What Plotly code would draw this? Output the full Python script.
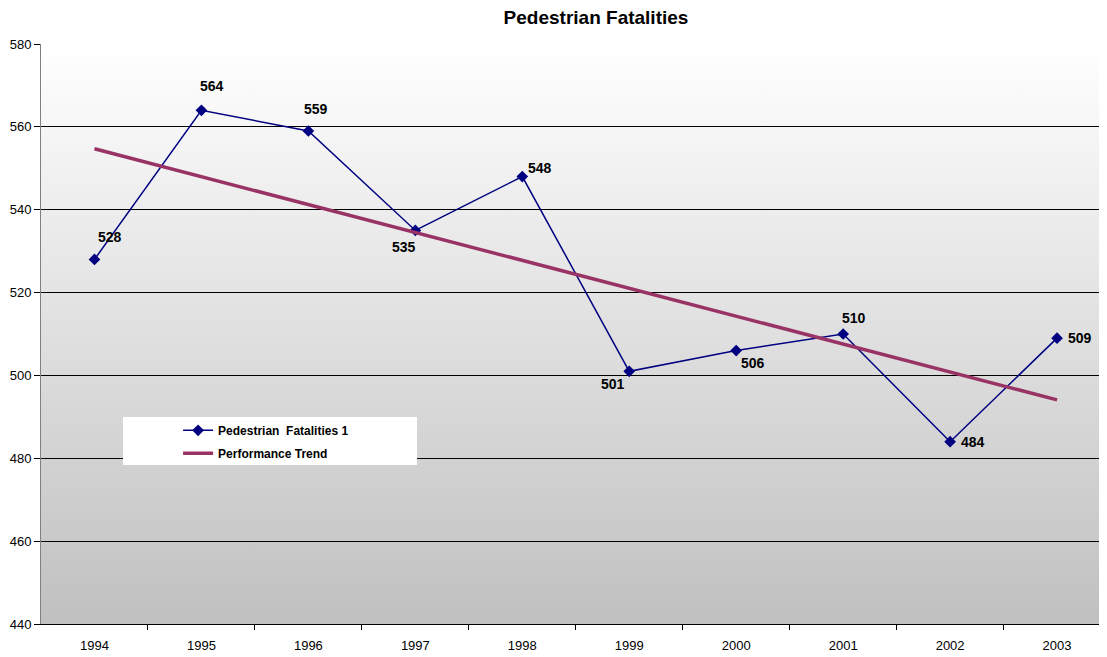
import base64
import plotly.graph_objects as go

years = ["1994", "1995", "1996", "1997", "1998", "1999", "2000", "2001", "2002", "2003"]
fatalities = [528, 564, 559, 535, 548, 501, 506, 510, 484, 509]
trend_years_idx = [0, 9]
trend_values = [554.7, 494.1]

# label offsets (px) for data labels
label_dx = [16, 11, 8, -11, 18, -16, 17, 11, 23, 23]
label_dy = [22, 24, 22, -17, 9, -13, -12, 16, 0, 0]

xi = list(range(len(years)))
FONT = "Arial, Liberation Sans, sans-serif"

svg = ('<svg xmlns="http://www.w3.org/2000/svg" width="100" height="100" preserveAspectRatio="none">'
       '<defs><linearGradient id="g" x1="0" y1="0" x2="0" y2="1">'
       '<stop offset="0" stop-color="#ffffff"/><stop offset="1" stop-color="#c0c0c0"/>'
       '</linearGradient></defs><rect width="100" height="100" fill="url(#g)"/></svg>')
src = "data:image/svg+xml;base64," + base64.b64encode(svg.encode()).decode()

fig = go.Figure()
fig.add_trace(go.Scatter(
    x=xi, y=fatalities, mode="lines+markers", name="Pedestrian&nbsp;&nbsp;Fatalities 1",
    legendgroup="a",
    line=dict(color="#000080", width=1.5),
    marker=dict(symbol="diamond", size=9, color="#000080"),
))
fig.add_trace(go.Scatter(
    x=trend_years_idx, y=trend_values, mode="lines", name="Performance Trend",
    legendgroup="b",
    line=dict(color="#993366", width=3.5),
))

for i, v in enumerate(fatalities):
    fig.add_annotation(x=xi[i], y=v, text=str(v), showarrow=False,
                       xshift=label_dx[i], yshift=label_dy[i],
                       font=dict(family=FONT, size=14, color="black", weight="bold"))

fig.add_layout_image(source=src, xref="paper", yref="paper", x=0, y=1,
                     sizex=1, sizey=1, sizing="stretch", xanchor="left", yanchor="top",
                     layer="below")

# legend box
fig.add_shape(type="rect", xref="paper", yref="paper", x0=0.0769, x1=0.3527,
              y0=0.2741, y1=0.3569, fillcolor="white", line=dict(width=0), layer="above")

W, H = 1099, 649  # page body has an 8px margin
fig.update_layout(
    width=W, height=H,
    margin=dict(l=33, r=0, t=36, b=33, autoexpand=False),
    paper_bgcolor="white", plot_bgcolor="rgba(0,0,0,0)",
    title=dict(text="<b>Pedestrian Fatalities</b>", x=588 / W, xref="container", xanchor="center",
               y=1 - 9 / H, yanchor="middle",
               font=dict(family=FONT, size=19, color="black")),
    font=dict(family=FONT, size=13, color="black"),
    showlegend=True,
    legend=dict(x=0.077, y=0.359, xanchor="left", yanchor="top", traceorder="grouped",
                tracegroupgap=4,
                bgcolor="rgba(0,0,0,0)", borderwidth=0, indentation=55,
                font=dict(family=FONT, size=12, color="black", weight="bold")),
    xaxis=dict(range=[-0.5, 9.467], tickvals=xi, ticktext=years, ticks="", showgrid=False,
               automargin=False, ticklabelstandoff=9,
               showline=True, linecolor="black", linewidth=1, zeroline=False,
               tickfont=dict(size=13, color="black"),
               minor=dict(tickvals=[i + 0.5 for i in xi[:-1]], ticks="outside", ticklen=5,
                          tickcolor="black", showgrid=False)),
    yaxis=dict(range=[440, 580], dtick=20, showgrid=True, gridcolor="black", gridwidth=1,
               automargin=False,
               showline=True, linecolor="#808080", linewidth=1, zeroline=False,
               ticks="outside", ticklen=6, tickcolor="black",
               tickfont=dict(size=13, color="black")),
)

fig.write_html("out.html")
